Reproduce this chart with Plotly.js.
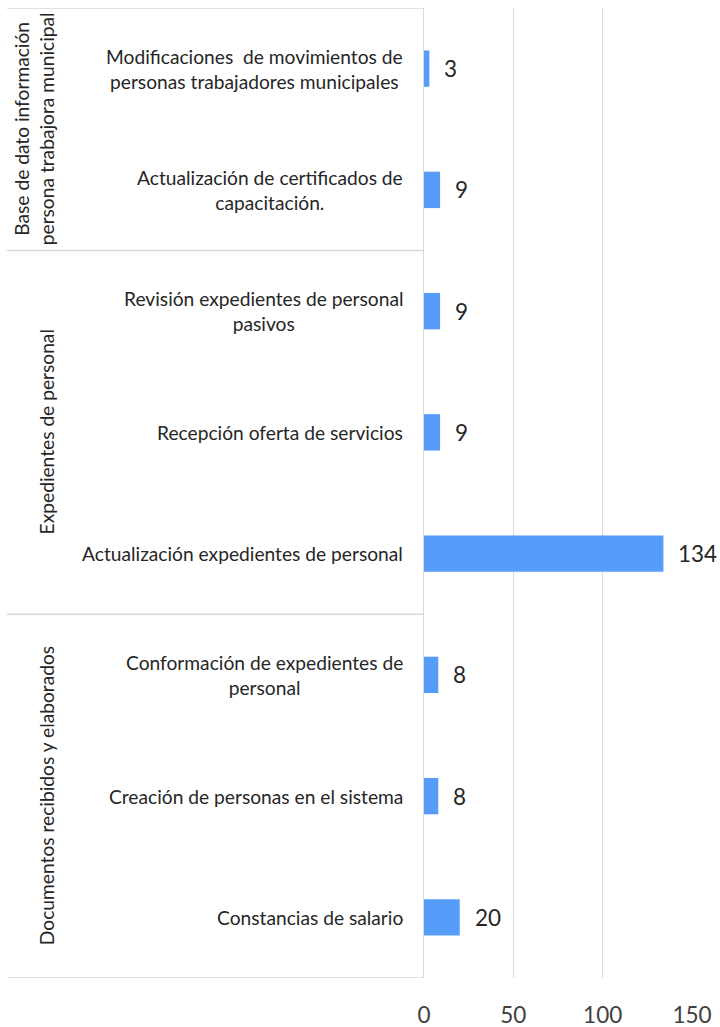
<!DOCTYPE html>
<html>
<head>
<meta charset="utf-8">
<script src="https://cdn.plot.ly/plotly-3.0.1.min.js"></script>
<style>
  html, body { margin: 0; padding: 0; background: #fff; }
  #chart { width: 720px; height: 1027px; }
</style>
</head>
<body>
<div id="chart"></div>
<script>
// actividades (de arriba hacia abajo)
const categorias = [
    'Modificaciones  de movimientos de<br>personas trabajadores municipales',
    'Actualización de certificados de<br>capacitación.',
    'Revisión expedientes de personal<br>pasivos',
    'Recepción oferta de servicios',
    'Actualización expedientes de personal',
    'Conformación de expedientes de<br>personal',
    'Creación de personas en el sistema',
    'Constancias de salario'
];
const valores = [3, 9, 9, 9, 134, 8, 8, 20];

// grupos: nombre, primer y último índice
const grupos = ['Base de dato información<br>persona trabajora municipal', 'Expedientes de personal', 'Documentos recibidos y elaborados'];
const grupoInicio = [0, 2, 5];
const grupoFin = [1, 4, 7];

const ejeTicks = [0, 50, 100, 150];

const fuente = 'Lato, "Open Sans", sans-serif';
const idx = categorias.map((c, i) => i);

const trace = {
    type: 'bar',
    orientation: 'h',
    x: valores,
    y: idx,
    width: 0.3,
    marker: { color: '#589CFA' },
    hoverinfo: 'x'
};

// px -> paper (plot area 424..692)
const plotL = 424, plotW = 268;
const px = v => (v - plotL) / plotW;

const annotations = [];
categorias.forEach((c, i) => {
    annotations.push({
        xref: 'paper', yref: 'y', x: 0, y: i,
        text: c, showarrow: false, xanchor: 'right', yanchor: 'middle',
        align: 'center', xshift: -19,
        font: { family: fuente, size: 19.2, color: '#262626' }
    });
    annotations.push({
        xref: 'x', yref: 'y', x: valores[i], y: i,
        text: String(valores[i]), showarrow: false, xanchor: 'left', yanchor: 'middle',
        xshift: 13,
        font: { family: fuente, size: 22.5, color: '#262626' }
    });
});

const grupoX = [34, 46, 46];
grupos.forEach((g, k) => {
    annotations.push({
        xref: 'paper', yref: 'y', x: px(grupoX[k]), y: (grupoInicio[k] + grupoFin[k]) / 2,
        text: g, showarrow: false, textangle: -90, align: 'center',
        xanchor: 'center', yanchor: 'middle',
        font: { family: fuente, size: 19.2, color: '#262626' }
    });
});

// líneas separadoras de grupos
const shapes = [];
const limites = [-0.5].concat(grupoFin.map(f => f + 0.5));
limites.forEach(b => {
    shapes.push({
        type: 'line', xref: 'paper', yref: 'y',
        x0: px(7), x1: 0, y0: b, y1: b,
        line: { color: '#D9D9D9', width: 1.5 }
    });
});

const layout = {
    width: 720,
    height: 1027,
    margin: { l: plotL, r: 720 - plotL - plotW, t: 8, b: 49 },
    paper_bgcolor: '#ffffff',
    plot_bgcolor: '#ffffff',
    showlegend: false,
    xaxis: {
        range: [0, 150],
        tickvals: ejeTicks,
        showgrid: true,
        gridcolor: '#D9D9D9',
        gridwidth: 1.5,
        zeroline: false,
        showline: false,
        ticks: '',
        ticklabelstandoff: 21,
        tickfont: { family: fuente, size: 22.5, color: '#404040' },
        fixedrange: true
    },
    yaxis: {
        range: [7.5, -0.5],
        showticklabels: false,
        showgrid: false,
        zeroline: false,
        showline: true,
        linecolor: '#D9D9D9',
        linewidth: 1.5,
        ticks: '',
        fixedrange: true
    },
    annotations: annotations,
    shapes: shapes
};

Plotly.newPlot('chart', [trace], layout, { displayModeBar: false, staticPlot: true });
</script>
</body>
</html>
